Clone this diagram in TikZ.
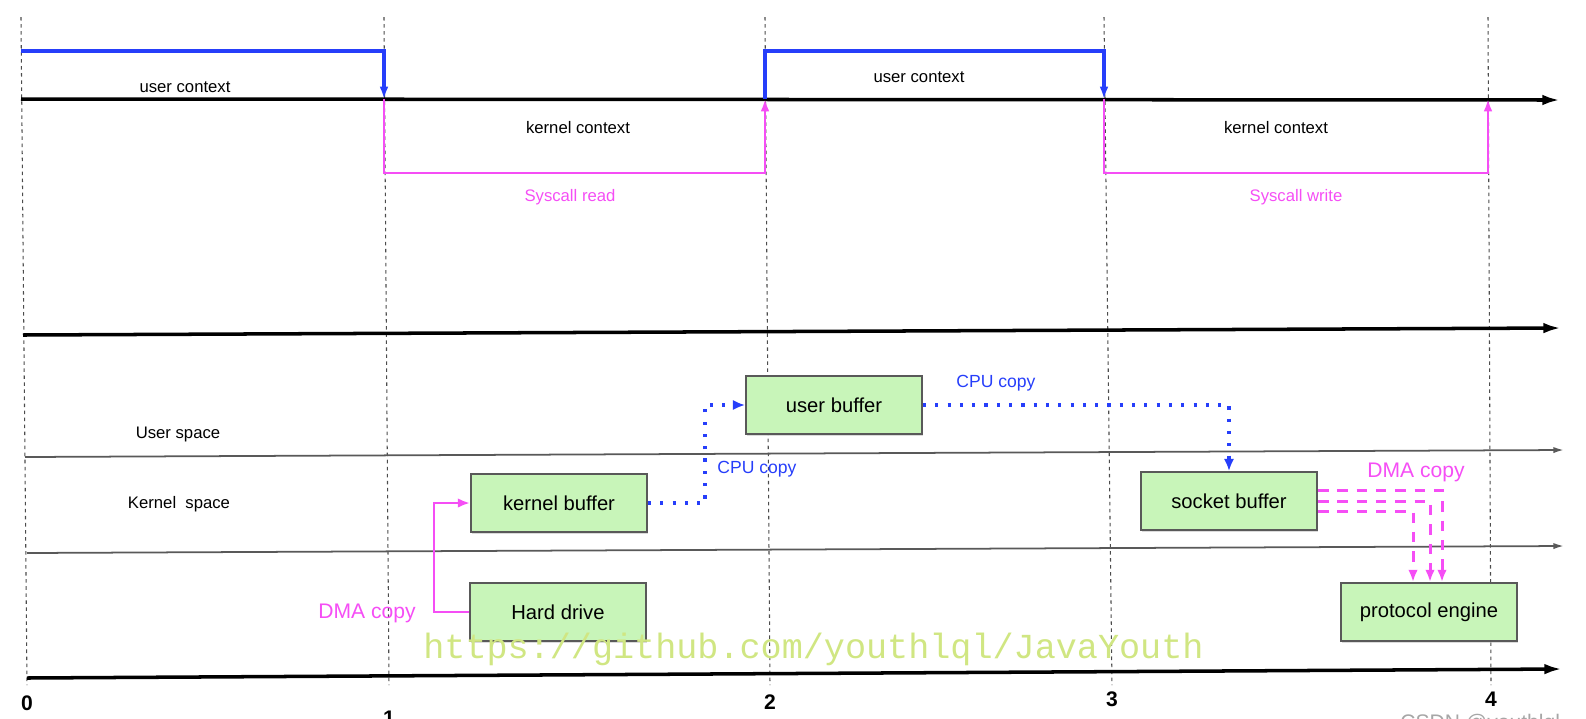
\documentclass[tikz,border=0pt]{standalone}
\usepackage{fontspec}
\setmainfont{Liberation Sans}
\setmonofont{Liberation Mono}
\usetikzlibrary{arrows.meta,positioning,shadows}
\definecolor{bufgreen}{RGB}{200,245,185}
\definecolor{ctxblue}{RGB}{38,62,250}
\definecolor{ctxpink}{RGB}{245,78,245}
\definecolor{wmark}{RGB}{208,230,130}

\begin{document}
\begin{tikzpicture}
  [x=0.02cm, y=-0.02cm,
   axis/.style={line width=2pt, -{Latex[length=10pt,width=6pt]}},
   lane/.style={line width=1pt, draw=black!65, -{Latex[length=6pt,width=3.5pt]}},
   tline/.style={dash pattern=on 2pt off 2pt, draw=black!70, line width=0.6pt},
   buf/.style={draw=black!65, line width=1.1pt, fill=bufgreen, minimum width=3.52cm, minimum height=1.16cm,
               font=\fontsize{11.5}{14}\selectfont, drop shadow={shadow xshift=0.5pt, shadow yshift=-1pt, opacity=0.35, fill=black!40}},
   lbl/.style={font=\fontsize{9.5}{11}\selectfont},
   num/.style={font=\bfseries\fontsize{12}{14}\selectfont},
   usr/.style={draw=ctxblue, line width=2pt, -{Latex[length=7pt,width=5pt]}},
   krn/.style={draw=ctxpink, line width=1.5pt, -{Latex[length=7pt,width=5pt]}},
   cpu/.style={draw=ctxblue, line width=1.8pt, dash pattern=on 1.8pt off 5.2pt, -{Latex[length=7pt,width=6pt]}},
   dma/.style={draw=ctxpink, line width=1.5pt, -{Latex[length=7pt,width=5.5pt]}},
   dmadash/.style={dma, line width=1.7pt, dash pattern=on 6pt off 5pt},
   cputext/.style={text=ctxblue, font=\fontsize{10}{12}\selectfont},
   dmatext/.style={text=ctxpink, font=\fontsize{12}{14}\selectfont}]
  \useasboundingbox (0,0) rectangle (1586,718);
  \clip (0,0) rectangle (1586,718);

  \foreach \xa/\xb/\n/\ny in {21/27/0/703, 384/389/1/718, 765/770/2/702, 1104/1112/3/699, 1488/1491/4/699} {
    \draw[tline] (\xa,17) -- (\xb,685);
    \coordinate (t\n) at (\xa,99);
    \node[num] (n\n) at (\xb,\ny) {\n};
  }

  \draw[axis] (21,99) -- (1560,100);
  \draw[axis] (23,335) -- (1561,328);
  \draw[lane] (25,457) -- (1564,450);
  \draw[lane] (27,553) -- (1564,546);
  \draw[axis] (27,678) -- (1562,669);

  \draw[usr] (21,51) -| (t1);
  \draw[krn] (t1) -- ++(0,74) -| (t2);
  \draw[usr] (t2) -- ++(0,-48) -| (t3);
  \draw[krn] (t3) -- ++(0,74) -| (t4);

  \node[lbl] (uc1) at (185,87) {user context};
  \node[lbl] (kc1) at (578,128) {kernel context};
  \node[lbl] (uc2) at (919,77) {user context};
  \node[lbl] (kc2) at (1276,128) {kernel context};
  \node[lbl, text=ctxpink] (sr) at (570,197) {Syscall read};
  \node[lbl, text=ctxpink] (sw) at (1296,197) {Syscall write};
  \node[lbl] (us) at (178,434) {User space};
  \node[lbl] (ks) at (179,504) {Kernel\ \ space};

  \node[buf] (ubuf) at (834,405) {user buffer};
  \node[buf] (kbuf) at (559,503) {kernel buffer};
  \node[buf] (hdd) at (558,612) {Hard drive};
  \node[buf] (sbuf) at (1229,501) {socket buffer};
  \node[buf] (peng) at (1429,612) {protocol engine};

  \draw[dma] (hdd.west) -- ++(-35,0) |- (kbuf.west);
  \draw[cpu] (kbuf.east) -- ++(57,0) |- (ubuf.west);
  \draw[cpu] (ubuf.east) -| (sbuf.north);
  \draw[dmadash] ([yshift=0.22cm]sbuf.east) -| ([xshift=0.26cm]peng.north);
  \draw[dmadash] (sbuf.east) -| ([xshift=0.02cm]peng.north);
  \draw[dmadash] ([yshift=-0.2cm]sbuf.east) -| ([xshift=-0.32cm]peng.north);

  \node[dmatext] (dma1) at (367,613) {DMA copy};
  \node[cputext] (cpu1) at (757,469) {CPU copy};
  \node[cputext] (cpu2) at (996,383) {CPU copy};
  \node[dmatext] (dma2) at (1416,472) {DMA copy};

  \node[anchor=base west, inner sep=0pt, text=wmark, font=\ttfamily\fontsize{20}{22}\selectfont] (wm) at (423,658) {https://github.com/youthlql/JavaYouth};
  \node[anchor=base west, inner sep=0pt, text=black!35, font=\fontsize{12}{14}\selectfont] (csdn) at (1400,729) {CSDN @youthlql};
\end{tikzpicture}
\end{document}
